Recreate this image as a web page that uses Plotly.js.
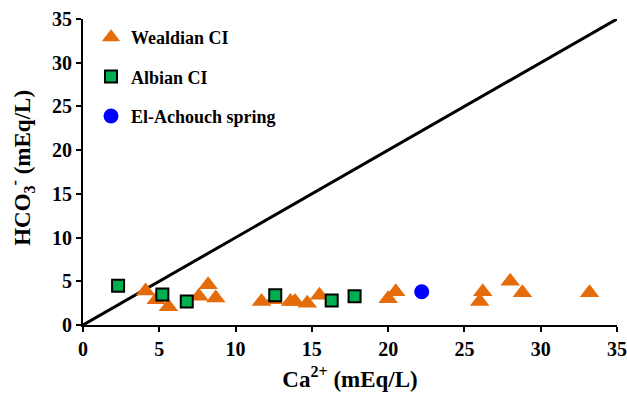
<!DOCTYPE html>
<html>
<head>
<meta charset="utf-8">
<script src="https://cdn.plot.ly/plotly-3.0.1.min.js"></script>
<style>html,body{margin:0;padding:0;background:#fff;}#chart{width:627px;height:394px;}</style>
</head>
<body>
<div id="chart"></div>
<script>
// Wealdian CI (Ca2+, HCO3-)
const wealdianCa  = [4.1, 4.8, 5.6, 7.6, 8.2, 8.7, 11.7, 12.5, 13.6, 13.9, 14.7, 15.5, 20.0, 20.5, 26.0, 26.2, 28.0, 28.8, 33.2];
const wealdianHCO3 = [3.9, 2.9, 2.1, 3.3, 4.6, 3.1, 2.7, 2.9, 2.7, 2.7, 2.5, 3.4, 3.0, 3.8, 2.7, 3.8, 5.0, 3.7, 3.7];
// Albian CI
const albianCa   = [2.3, 5.2, 6.8, 12.6, 16.3, 17.8];
const albianHCO3 = [4.5, 3.5, 2.7, 3.4, 2.8, 3.3];
// El-Achouch spring
const springCa   = [22.2];
const springHCO3 = [3.8];
// 1:1 line
const lineX = [0, 35];
const lineY = [0, 35];

const FONT = "Liberation Serif";

const traces = [
  {x: lineX, y: lineY, mode: 'lines', line: {color: '#000', width: 3}, showlegend: false, hoverinfo: 'skip'},
  {x: wealdianCa, y: wealdianHCO3, mode: 'markers', name: '<b>Wealdian CI</b>', legendgroup: 'a',
   marker: {symbol: 'triangle-up', size: 17, color: '#E46C0A'}},
  {x: albianCa, y: albianHCO3, mode: 'markers', name: '<b>Albian CI</b>', legendgroup: 'b',
   marker: {symbol: 'square', size: 12, color: '#00B050', line: {color: '#000', width: 2}}},
  {x: springCa, y: springHCO3, mode: 'markers', name: '<b>El-Achouch spring</b>', legendgroup: 'c',
   marker: {symbol: 'circle', size: 15, color: '#0000FF'}}
];

const layout = {
  width: 627, height: 394,
  margin: {l: 83, r: 10, t: 19, b: 69},
  paper_bgcolor: '#fff', plot_bgcolor: '#fff',
  font: {family: FONT, color: '#000', size: 18},
  xaxis: {
    range: [0, 35], dtick: 5, tick0: 0,
    showline: true, linecolor: '#000', linewidth: 2,
    ticks: 'outside', ticklen: 5, tickwidth: 2, tickcolor: '#000',
    showgrid: false, zeroline: false,
    tickfont: {family: FONT, size: 20, color: '#000', weight: 'bold'},
    title: {text: '<b>Ca<sup>2+</sup> (mEq/L)</b>', font: {family: FONT, size: 23, color: '#000'}, standoff: 12}
  },
  yaxis: {
    range: [0, 35], dtick: 5, tick0: 0,
    showline: true, linecolor: '#000', linewidth: 2,
    ticks: 'outside', ticklen: 5, tickwidth: 2, tickcolor: '#000',
    showgrid: false, zeroline: false,
    tickfont: {family: FONT, size: 20, color: '#000', weight: 'bold'}
  },
  annotations: [{
    xref: 'paper', yref: 'paper', x: -0.114, y: 0.514, xanchor: 'center', yanchor: 'middle',
    textangle: -90, showarrow: false,
    text: '<b>HCO<sub>3</sub><sup>-</sup> (mEq/L)</b>', font: {family: FONT, size: 23, color: '#000'}
  }],
  legend: {
    x: 0.015, y: 1.0, xanchor: 'left', yanchor: 'top',
    bgcolor: 'rgba(0,0,0,0)', borderwidth: 0,
    traceorder: 'grouped', tracegroupgap: 13,
    font: {family: FONT, size: 18, color: '#000'}
  },
  showlegend: true
};

Plotly.newPlot('chart', traces, layout, {displayModeBar: false, staticPlot: true});
</script>
</body>
</html>
